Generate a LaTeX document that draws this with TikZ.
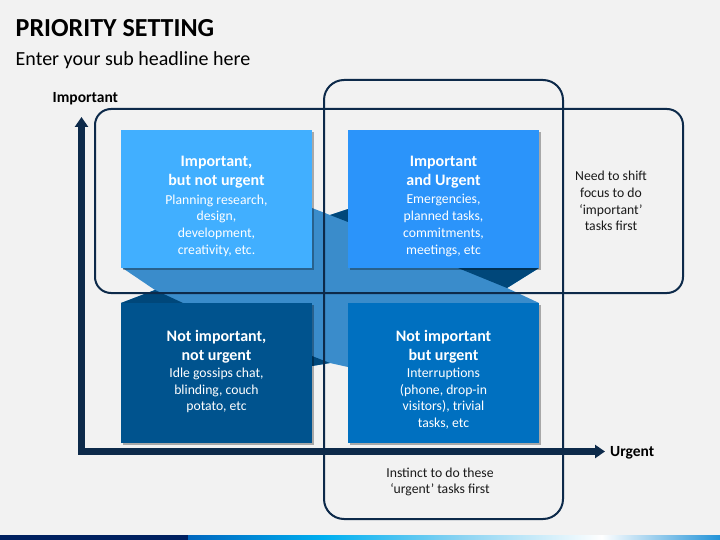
\documentclass[tikz,border=0pt]{standalone}
\usepackage{fontspec}
\setmainfont{Carlito}
\usetikzlibrary{arrows.meta,shadows}
\definecolor{bg}{HTML}{F2F2F2}
\definecolor{navy}{HTML}{0D2A4A}
\definecolor{qtl}{HTML}{41AFFF}
\definecolor{qtr}{HTML}{2B94FA}
\definecolor{qbl}{HTML}{00538E}
\definecolor{qbr}{HTML}{0070C0}
\definecolor{band}{HTML}{3A8CCB}
\definecolor{fold}{HTML}{00477A}
\definecolor{txt}{HTML}{1A1A1A}
\definecolor{barnavy}{HTML}{002060}
\definecolor{barblue}{HTML}{0066BE}
\definecolor{barcyan}{HTML}{00B0F0}
\definecolor{barlight}{HTML}{8AD3F2}
\definecolor{barend}{HTML}{2293D8}
\begin{document}
\begin{tikzpicture}[x=1pt,y=-1pt,
  quad/.style={draw=none, inner sep=0pt, minimum width=191pt,
    drop shadow={shadow xshift=2pt, shadow yshift=-2pt, opacity=0.3, fill=black}},
  ttl/.style={font=\fontsize{16}{19}\selectfont\bfseries, text=white, align=center, inner sep=0pt, anchor=north},
  bdy/.style={font=\fontsize{13.7}{16.7}\selectfont, text=white, align=center, inner sep=0pt, anchor=north},
  note/.style={font=\fontsize{13.7}{16.7}\selectfont, text=txt, align=center, inner sep=0pt, anchor=north},
  axlabel/.style={font=\fontsize{15.5}{18}\selectfont\bfseries, text=black, inner sep=0pt, anchor=base west},
  frame/.style={draw=navy, line width=2pt},
  axis/.style={draw=navy, line width=6.5pt, line join=miter,
    {Triangle[width=13pt,length=10pt]}-{Triangle[width=13pt,length=10pt]}}
]
% background
\fill[bg] (0,0) rectangle (720,540);
\useasboundingbox (0,0) rectangle (720,540);

% bottom bar
\fill[barnavy] (0,535) rectangle (188.5,540);
\shade[left color=barblue, right color=barcyan] (188,535) rectangle (325,540);
\shade[left color=barcyan, right color=barlight] (324.5,535) rectangle (460,540);
\shade[left color=barlight, right color=white] (459.5,535) rectangle (602,540);
\shade[left color=white, right color=barend] (601.5,535) rectangle (720,540);

% title
\node[font=\fontsize{26}{30}\selectfont\bfseries, text=black, inner sep=0pt, anchor=base west] (title) at (15.5,37) {PRIORITY SETTING};
\node[font=\fontsize{20}{24}\selectfont, text=black, inner sep=0pt, anchor=base west] (subtitle) at (15.5,66) {Enter your sub headline here};

% ribbon cross behind boxes
\fill[band] (121,267) -- (200,200) -- (312,208) -- (330,215) -- (348,209) -- (450,220)
  -- (539,268) -- (507,288) -- (539,303) -- (450,400) -- (348,367) -- (330,363)
  -- (312,366) -- (200,380) -- (121,303) -- (155,290) -- cycle;
\fill[fold] (121,303) -- (155,290) -- (183,303) -- cycle;
\fill[fold] (330,215) -- (348,209) -- (348,222) -- cycle;
\fill[fold] (458,268) -- (539,268) -- (507,288) -- cycle;
\fill[fold] (312,356) -- (312,366) -- (330,363) -- cycle;

% quadrant boxes
\node[quad, fill=qtl, minimum height=138pt] (tl) at (216.5,199) {};
\node[quad, fill=qtr, minimum height=138pt] (tr) at (443.5,199) {};
\node[quad, fill=qbl, minimum height=140pt] (bl) at (216.5,373) {};
\node[quad, fill=qbr, minimum height=140pt] (br) at (443.5,373) {};

% frames
\draw[frame, rounded corners=16pt] (95,109) rectangle (683,293);
\draw[frame, rounded corners=20pt] (324,80) rectangle (563,519);

% axes
\coordinate (ytip) at (81.5,117);
\coordinate (corner) at (81.5,451.5);
\coordinate (xtip) at (605,451.5);
\draw[axis] (ytip) -- (corner) -- (xtip);
\node[axlabel] (imp) at (52.5,102.2) {Important};
\node[axlabel] (urg) at (610,456.5) {Urgent};

% texts in boxes
\node[ttl] (tlt) at (216.5,156) {Important,\\but not urgent};
\node[bdy] (tlb) at (216.5,194.3) {Planning research,\\design,\\development,\\creativity, etc.};
\node[ttl] (trt) at (443.5,156) {Important\\and Urgent};
\node[bdy] (trb) at (443.5,194.3) {Emergencies,\\planned tasks,\\commitments,\\meetings, etc};
\node[ttl] (blt) at (216.5,330) {Not important,\\not urgent};
\node[bdy] (blb) at (216.5,367.8) {Idle gossips chat,\\blinding, couch\\potato, etc};
\node[ttl] (brt) at (443.5,330) {Not important\\but urgent};
\node[bdy] (brb) at (443.5,367.8) {Interruptions\\(phone, drop-in\\visitors), trivial\\tasks, etc};

% side notes
\node[note] (n1) at (611,171) {Need to shift\\focus to do\\‘important’\\tasks first};
\node[note] (n2) at (440,467.5) {Instinct to do these\\‘urgent’ tasks first};
\end{tikzpicture}
\end{document}
